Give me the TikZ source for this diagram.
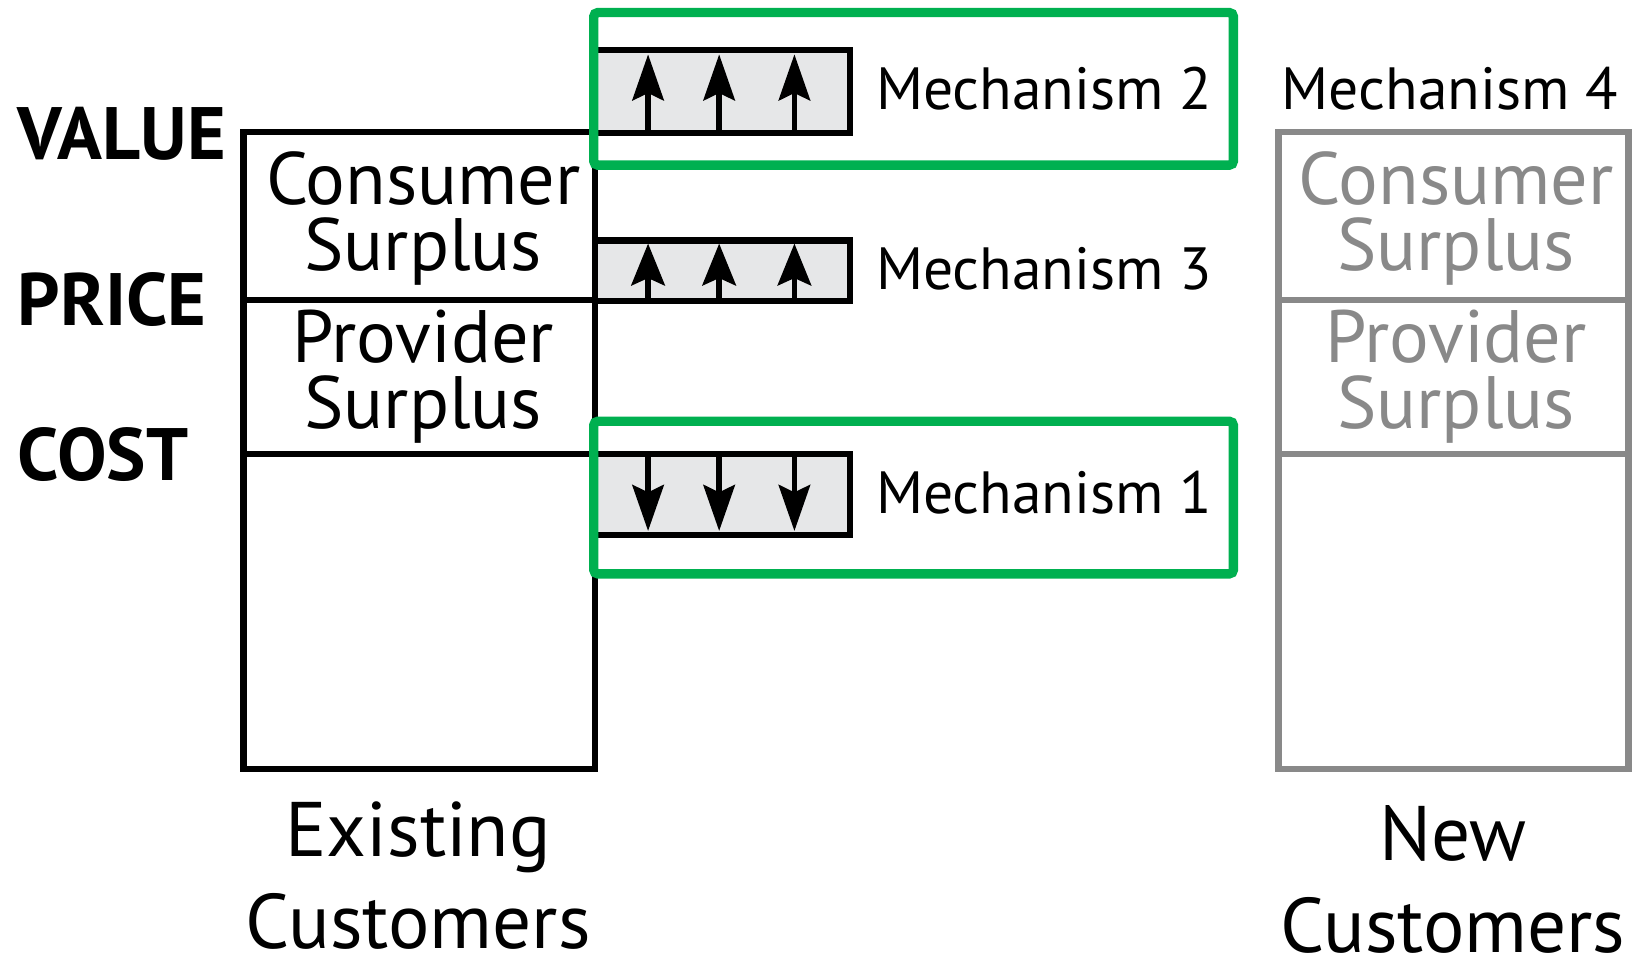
\documentclass[tikz,border=0pt]{standalone}
\usepackage{fontspec}
\setmainfont{PT Sans}
\usetikzlibrary{arrows.meta}
\definecolor{grn}{RGB}{0,176,80}
\definecolor{barfill}{RGB}{230,231,232}
\definecolor{gry}{RGB}{137,137,137}
\begin{document}
\begin{tikzpicture}[x=1pt,y=-1pt,
  blk/.style={draw=black,line width=6pt},
  gbox/.style={draw=gry,line width=6pt},
  bar/.style={draw=black,fill=barfill,line width=6pt},
  hl/.style={draw=grn,line width=9pt,rounded corners=4pt},
  upar/.style={line width=5.5pt,-{Stealth[length=44pt,width=30pt,inset=7pt]}},
  lab/.style={font=\fontsize{71}{71}\selectfont\bfseries,anchor=base west,inner sep=0pt},
  mech/.style={font=\fontsize{57}{57}\selectfont,anchor=base west,inner sep=0pt},
  surp/.style={font=\fontsize{71}{63}\selectfont,anchor=base,inner sep=0pt,align=center},
  cust/.style={font=\fontsize{74}{88}\selectfont,anchor=base,inner sep=0pt,align=center}]
\useasboundingbox (0,0) rectangle (1568,924);
% left box
\draw[blk] (233,126) rectangle (569,736);
\draw[blk] (233,287) -- (569,287);
\draw[blk] (233,434) -- (569,434);
% mechanism bars
\draw[bar] (569,48) rectangle (813,127);
\draw[bar] (569,230) rectangle (813,288);
\draw[bar] (569,434) rectangle (813,512);
\foreach \x in {620,688,760}{
  \coordinate (a2\x) at (\x,127); \coordinate (b2\x) at (\x,52);
  \draw[upar] (a2\x) -- (b2\x);
  \coordinate (a3\x) at (\x,288); \coordinate (b3\x) at (\x,233);
  \draw[line width=5.5pt,-{Stealth[length=40pt,width=32pt,inset=7pt]}] (a3\x) -- (b3\x);
  \coordinate (a1\x) at (\x,434); \coordinate (b1\x) at (\x,508);
  \draw[upar] (a1\x) -- (b1\x);
}
% right gray box
\draw[gbox] (1223,126) rectangle (1558,736);
\draw[gbox] (1223,287) -- (1558,287);
\draw[gbox] (1223,434) -- (1558,434);
% green highlights
\draw[hl] (568,12) rectangle (1180,158);
\draw[hl] (568,403) rectangle (1180,549);
% labels
\node[lab] (value) at (17,153) {VALUE};
\node[lab] (price) at (17,311) {PRICE};
\node[lab] (cost) at (17,460) {COST};
\node[surp] (cs1) at (405,259) {Consumer\\Surplus};
\node[surp] (ps1) at (405,410) {Provider\\Surplus};
\node[surp,text=gry] (cs2) at (1393,259) {Consumer\\Surplus};
\node[surp,text=gry] (ps2) at (1393,410) {Provider\\Surplus};
\node[mech] (m2) at (838,105) {Mechanism 2};
\node[mech] (m3) at (838,277) {Mechanism 3};
\node[mech] (m1) at (838,491) {Mechanism 1};
\node[mech] (m4) at (1226,105) {Mechanism 4};
\node[cust] (ex) at (400,907) {Existing\\Customers};
\node[cust] (nw) at (1390,911) {New\\Customers};
\end{tikzpicture}
\end{document}
